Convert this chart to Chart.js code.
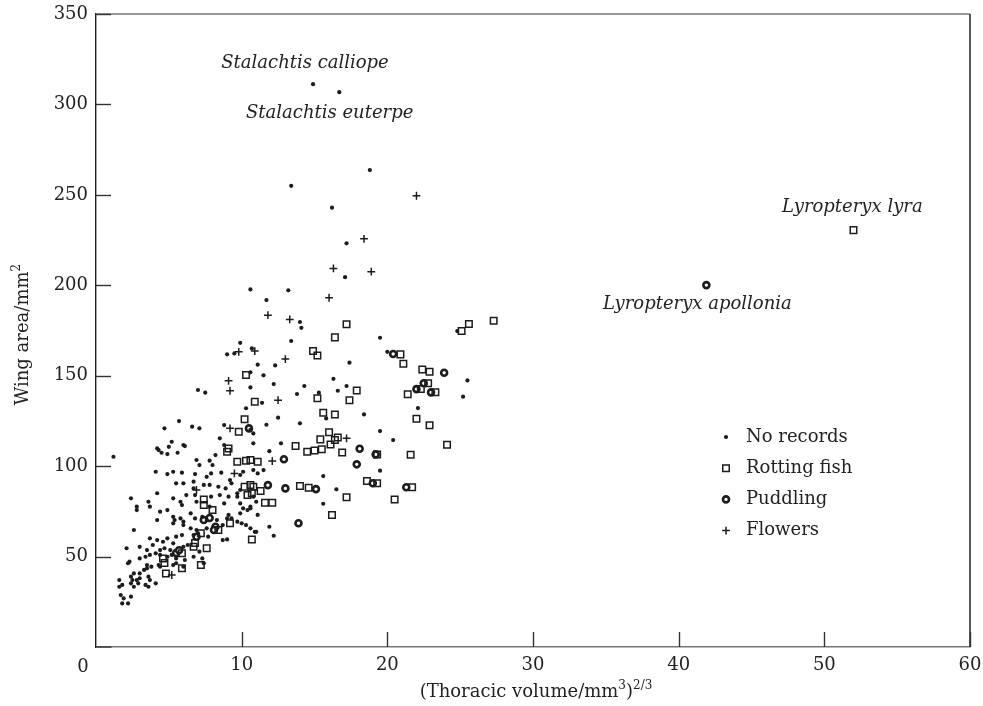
<!DOCTYPE html>
<html>
<head>
<meta charset="utf-8">
<title>Wing area vs thoracic volume</title>
<script src="https://cdn.jsdelivr.net/npm/chart.js@4.4.0/dist/chart.umd.min.js"></script>
<style>
    html, body { margin: 0; padding: 0; background: #fff; }
</style>
</head>
<body>
<canvas id="wingChart" width="983" height="706"></canvas>
<script>
// tick values
const xTicks = [0, 10, 20, 30, 40, 50, 60];
const yTicks = [50, 100, 150, 200, 250, 300, 350];

const seriesNames = ['No records', 'Rotting fish', 'Puddling', 'Flowers'];

// [thoracic volume^(2/3), wing area]
const noRecords = [
    [14.9, 311.2], [16.7, 306.8], [18.8, 263.7], [13.4, 255.0], [16.2, 242.9], [17.2, 223.2], [17.1, 204.5],
    [10.6, 197.7], [13.2, 197.2], [11.7, 191.8], [14.0, 179.7], [14.1, 176.5], [19.5, 171.0], [13.4, 169.2],
    [10.7, 165.1], [20.0, 163.2], [17.4, 157.2], [11.1, 156.1], [12.3, 155.7], [10.6, 151.9], [11.5, 150.2],
    [16.3, 148.3], [12.2, 145.4], [14.3, 144.3], [17.2, 144.3], [24.8, 174.7], [25.5, 147.4], [25.2, 138.4],
    [22.1, 132.1], [11.4, 135.0], [13.8, 139.9], [15.3, 140.6], [16.6, 141.7], [15.8, 126.4], [18.4, 128.6],
    [12.5, 126.8], [14.0, 123.7], [11.7, 122.9], [10.6, 120.0], [10.8, 118.1], [10.8, 112.6], [19.5, 119.4],
    [20.4, 114.4], [12.7, 112.6], [11.9, 108.3], [19.5, 97.5], [15.6, 94.5], [16.5, 87.2], [15.6, 79.2],
    [11.1, 73.0], [11.9, 66.5], [12.2, 61.5], [11.0, 63.7], [10.8, 97.8], [11.1, 96.0], [11.5, 97.8],
    [10.8, 83.1], [11.0, 80.3], [10.6, 76.7],
    [9.9, 168.2], [9.0, 161.8], [9.5, 162.3], [7.0, 142.1], [7.5, 140.6], [10.6, 143.5], [10.3, 132.0],
    [5.7, 124.9], [4.7, 120.9], [6.6, 121.8], [7.1, 120.9], [8.8, 122.7], [5.2, 113.5], [5.0, 110.7],
    [6.0, 111.7], [8.5, 115.4], [8.8, 111.7], [4.2, 109.8],
    [1.2, 105.2], [4.3, 108.9], [4.5, 107.4], [4.9, 106.7], [5.6, 107.4], [6.1, 111.1], [6.9, 103.4],
    [7.1, 100.6], [8.0, 100.6], [8.2, 106.1], [7.8, 103.0],
    [4.1, 96.9], [4.9, 95.6], [5.3, 96.9], [5.9, 96.4], [6.8, 95.6], [7.6, 94.1], [7.9, 96.0], [8.6, 96.4],
    [9.2, 92.3], [10.1, 96.9], [9.9, 95.1],
    [5.5, 90.5], [6.0, 90.5], [6.7, 91.4], [7.4, 89.6], [7.8, 89.6], [8.4, 88.6], [8.9, 87.7], [9.3, 90.5],
    [6.7, 87.7], [9.7, 85.0], [9.9, 86.8],
    [4.2, 85.0], [5.3, 82.2], [6.2, 84.0], [6.8, 84.0], [7.9, 83.1], [8.5, 84.0], [9.1, 83.1], [9.7, 83.1],
    [3.6, 80.3], [3.7, 77.6], [5.8, 80.3], [5.9, 78.5], [6.9, 80.3], [7.8, 77.6], [9.9, 79.4], [8.8, 79.4],
    [2.4, 82.2], [2.8, 77.6], [2.8, 75.7], [10.1, 76.7], [10.6, 77.6],
    [4.4, 74.8], [4.9, 75.7], [5.3, 72.0], [6.0, 69.3], [6.5, 73.9], [6.8, 71.1], [7.3, 72.0], [7.6, 70.2],
    [8.3, 70.2], [9.0, 71.1], [9.9, 73.9], [10.4, 75.7], [4.2, 70.2], [5.4, 70.2], [5.8, 71.1], [9.1, 73.0],
    [9.3, 71.1],
    [5.3, 68.4], [6.0, 67.4], [6.5, 65.6], [6.9, 64.7], [7.6, 65.6], [8.7, 67.4], [9.7, 69.3], [10.0, 68.4],
    [10.6, 65.6], [10.3, 67.4], [10.9, 63.7], [2.6, 64.7],
    [3.7, 60.1], [4.2, 59.1], [4.6, 58.2], [4.9, 60.1], [5.3, 57.3], [5.5, 61.0], [5.9, 61.9], [6.7, 61.9],
    [7.0, 62.9], [7.7, 61.0], [8.7, 59.1], [9.0, 59.5],
    [3.0, 55.4], [3.5, 53.6], [3.9, 56.4], [4.4, 53.6], [4.7, 54.6], [5.1, 53.6], [6.0, 55.4], [6.3, 56.4],
    [7.1, 52.7], [2.1, 54.6],
    [3.0, 49.0], [3.4, 49.9], [3.7, 50.9], [4.1, 51.8], [4.4, 50.9], [4.9, 49.9], [5.2, 50.9], [5.5, 49.0],
    [6.1, 48.1], [6.7, 49.9], [7.3, 49.0], [7.4, 46.3], [2.3, 47.2], [2.2, 46.3],
    [3.5, 45.3], [4.4, 44.4], [5.5, 46.3], [6.0, 44.4], [5.3, 45.3], [4.3, 45.3],
    [3.8, 44.4], [3.5, 43.5], [3.3, 42.6], [3.0, 40.7], [2.6, 40.7], [2.4, 38.9], [2.5, 37.0], [2.8, 37.0],
    [3.0, 38.0], [3.6, 38.9], [3.7, 37.0], [4.1, 35.2], [1.6, 37.0], [1.8, 34.3], [1.6, 33.3], [2.4, 35.2],
    [2.6, 33.3], [2.9, 35.2], [3.4, 34.3], [3.6, 33.3],
    [1.7, 28.7], [1.9, 26.9], [2.4, 27.8], [1.8, 24.1], [2.2, 24.1]
];

const rottingFish = [
    [17.2, 178.4], [16.4, 171.2], [14.9, 163.6], [15.2, 161.2], [20.9, 161.8], [21.1, 156.6], [17.9, 141.8],
    [25.6, 178.6], [27.3, 180.4], [25.1, 174.7], [22.4, 153.5], [22.9, 152.2], [22.8, 145.8], [22.3, 142.6],
    [21.4, 139.7], [23.3, 140.8], [22.0, 126.2], [22.9, 122.6], [24.1, 111.8], [21.6, 106.3], [10.9, 135.6],
    [15.2, 137.5], [17.4, 136.5], [15.6, 129.5], [16.4, 128.6], [16.0, 118.7], [15.4, 114.8], [16.6, 115.9],
    [16.4, 114.4], [16.1, 112.0], [13.7, 111.1], [14.5, 108.0], [15.0, 108.7], [15.5, 109.3], [16.9, 107.6],
    [19.3, 106.5], [11.1, 102.4], [10.6, 103.4], [18.6, 91.8], [19.3, 90.5], [21.7, 88.3], [14.0, 89.0],
    [14.6, 88.1], [17.2, 82.8], [20.5, 81.6], [16.2, 73.0], [10.7, 59.5], [10.8, 88.6], [11.3, 86.2],
    [11.6, 79.8], [12.1, 79.8], [10.3, 150.4], [10.2, 125.9], [9.8, 119.0], [9.1, 109.8], [9.0, 108.0],
    [9.7, 102.4], [10.3, 103.0], [10.2, 88.6], [10.6, 89.6], [10.7, 85.0], [10.4, 84.0], [7.4, 78.5],
    [7.4, 81.5], [8.0, 75.7], [9.2, 68.4], [8.4, 64.7], [6.7, 55.4], [6.8, 57.5], [7.2, 62.9], [7.6, 54.6],
    [5.9, 51.8], [4.6, 49.0], [4.7, 46.4], [4.8, 40.7], [7.2, 45.3], [5.9, 43.5],
    [52.0, 230.5]
];

const puddling = [
    [20.4, 162.0], [23.9, 151.6], [22.0, 142.6], [22.5, 145.8], [23.0, 140.8], [18.1, 109.6], [19.2, 106.5],
    [12.9, 103.8], [17.9, 101.0], [21.3, 88.3], [19.0, 90.5], [15.1, 87.3], [13.0, 87.7], [13.9, 68.4],
    [11.8, 89.5], [10.5, 120.9], [8.2, 66.5], [7.4, 70.2], [7.8, 71.3], [6.9, 61.0], [5.5, 52.0], [5.7, 53.5],
    [8.1, 64.7],
    [41.9, 200.1]
];

const flowers = [
    [22.0, 249.5], [18.4, 225.7], [16.3, 209.3], [18.9, 207.5], [16.0, 193.1], [11.8, 183.5], [13.3, 181.1],
    [10.9, 163.6], [13.0, 159.2], [9.8, 163.2], [9.1, 147.2], [9.2, 141.7], [12.5, 136.5], [17.2, 115.4],
    [12.1, 102.8], [9.2, 120.9], [6.9, 86.8], [5.2, 39.8], [9.5, 96.0]
];

// species names written next to their points (anchor in data units, text starts there)
const speciesNames = ['Stalachtis calliope', 'Stalachtis euterpe', 'Lyropteryx lyra', 'Lyropteryx apollonia'];
const speciesAnchors = [[8.6, 322.8], [10.3, 295.2], [47.1, 243.0], [34.8, 189.5]];

const ink = '#1c1c1c';
const serif = '"DejaVu Serif", "Liberation Serif", serif';

function toPoints(list) {
    return list.map(p => ({ x: p[0], y: p[1] }));
}

const markers = [
    { pointStyle: 'circle', radius: 2.1, borderWidth: 0, backgroundColor: ink },
    { pointStyle: 'rect', radius: 4.6, borderWidth: 1.5, backgroundColor: 'rgba(255,255,255,0)' },
    { pointStyle: 'circle', radius: 3.0, borderWidth: 2.6, backgroundColor: '#fff' },
    { pointStyle: 'cross', radius: 3.9, borderWidth: 1.5, backgroundColor: ink }
];

const seriesData = [noRecords, rottingFish, puddling, flowers];

const datasets = seriesData.map((list, i) => ({
    label: seriesNames[i],
    data: toPoints(list),
    pointStyle: markers[i].pointStyle,
    pointRadius: markers[i].radius,
    pointHoverRadius: markers[i].radius,
    pointBorderWidth: markers[i].borderWidth,
    pointBorderColor: ink,
    pointBackgroundColor: markers[i].backgroundColor,
    showLine: false
}));

// text with superscripts, parts = [[text, isSup], ...]
function richWidth(ctx, parts, size) {
    let w = 0;
    parts.forEach(p => {
        ctx.font = (p[1] ? Math.round(size * 0.68) : size) + 'px ' + serif;
        w += ctx.measureText(p[0]).width;
    });
    return w;
}

function drawRich(ctx, parts, cx, cy, size) {
    let x = cx - richWidth(ctx, parts, size) / 2;
    ctx.textAlign = 'left';
    ctx.textBaseline = 'alphabetic';
    parts.forEach(p => {
        const s = p[1] ? Math.round(size * 0.68) : size;
        ctx.font = s + 'px ' + serif;
        ctx.fillText(p[0], x, cy + (p[1] ? -size * 0.42 : 0));
        x += ctx.measureText(p[0]).width;
    });
}

// no extra room for overhanging tick labels: the frame is fixed by layout padding
function fixScale(scale, size) {
    if (scale.isHorizontal()) {
        scale.height = size;
    } else {
        scale.width = size;
    }
    scale.paddingTop = 0;
    scale.paddingBottom = 0;
    scale.paddingLeft = 0;
    scale.paddingRight = 0;
}

const figurePlugin = {
    id: 'figure',
    afterDraw(chart) {
        const { ctx, chartArea: a } = chart;
        const xs = chart.scales.x;
        const ys = chart.scales.y;
        ctx.save();

        // top and right frame
        ctx.lineWidth = 1.5;
        ctx.strokeStyle = '#777';
        ctx.beginPath();
        ctx.moveTo(a.left, a.top);
        ctx.lineTo(a.right, a.top);
        ctx.stroke();
        ctx.strokeStyle = '#222';
        ctx.beginPath();
        ctx.moveTo(a.right, a.top);
        ctx.lineTo(a.right, a.bottom);
        ctx.stroke();

        // inward tick marks
        ctx.strokeStyle = '#333';
        ctx.lineWidth = 1.4;
        yTicks.forEach(v => {
            const py = Math.round(ys.getPixelForValue(v)) + 0.5;
            ctx.beginPath();
            ctx.moveTo(a.left, py);
            ctx.lineTo(a.left + 15, py);
            ctx.stroke();
        });
        xTicks.forEach(v => {
            const px = Math.round(xs.getPixelForValue(v)) + 0.5;
            ctx.beginPath();
            if (v === 0) {
                ctx.moveTo(px, a.bottom);
                ctx.lineTo(px + 15, a.bottom);
            } else {
                ctx.moveTo(px, a.bottom);
                ctx.lineTo(px, a.bottom - 15);
            }
            ctx.stroke();
        });

        ctx.fillStyle = '#222';

        // the origin label sits left of the axis in the original
        ctx.font = '18px ' + serif;
        ctx.textAlign = 'center';
        ctx.textBaseline = 'middle';
        ctx.fillText('0', xs.getPixelForValue(0) - 13, a.bottom + 20);

        // species labels
        ctx.font = 'italic 18px ' + serif;
        ctx.textAlign = 'left';
        speciesNames.forEach((name, i) => {
            const px = xs.getPixelForValue(speciesAnchors[i][0]);
            const py = ys.getPixelForValue(speciesAnchors[i][1]);
            ctx.fillText(name, px, py);
        });

        // legend
        const lx = a.left + 630;
        let ly = a.top + 423;
        seriesNames.forEach((name, i) => {
            ctx.strokeStyle = ink;
            ctx.fillStyle = markers[i].backgroundColor;
            ctx.lineWidth = markers[i].borderWidth;
            Chart.helpers.drawPoint(ctx, {
                pointStyle: markers[i].pointStyle,
                radius: markers[i].radius,
                borderWidth: markers[i].borderWidth,
                rotation: 0
            }, lx, ly);
            ctx.fillStyle = '#222';
            ctx.font = '18px ' + serif;
            ctx.textAlign = 'left';
            ctx.textBaseline = 'middle';
            ctx.fillText(name, lx + 20, ly);
            ly += 31.2;
        });

        // axis titles
        ctx.fillStyle = '#222';
        drawRich(ctx, [['(Thoracic volume/mm', false], ['3', true], [')', false], ['2/3', true]],
            (a.left + a.right) / 2 + 3, 697, 18);
        ctx.translate(28, (a.top + a.bottom) / 2 + 4);
        ctx.rotate(-Math.PI / 2);
        drawRich(ctx, [['Wing area/mm', false], ['2', true]], 0, 0, 18);

        ctx.restore();
    }
};

const tickFont = { family: serif, size: 18 };

const config = {
    type: 'scatter',
    data: { datasets: datasets },
    options: {
        responsive: false,
        animation: false,
        events: [],
        layout: { padding: { top: 14, right: 13, left: 0, bottom: 0 } },
        plugins: {
            legend: { display: false },
            tooltip: { enabled: false },
            title: { display: false }
        },
        scales: {
            x: {
                type: 'linear',
                min: 0,
                max: 60,
                afterFit(scale) { fixScale(scale, 59); },
                afterBuildTicks(scale) { scale.ticks = xTicks.map(v => ({ value: v })); },
                grid: { display: false, drawTicks: false },
                border: { display: true, color: '#777', width: 1.5 },
                ticks: {
                    font: tickFont,
                    color: '#222',
                    padding: 8,
                    maxRotation: 0,
                    callback: v => (v === 0 ? '' : String(v))
                }
            },
            y: {
                type: 'linear',
                min: 0,
                max: 350,
                afterFit(scale) { fixScale(scale, 96); },
                afterBuildTicks(scale) { scale.ticks = [0].concat(yTicks).map(v => ({ value: v })); },
                grid: { display: false, drawTicks: false },
                border: { display: true, color: '#222', width: 1.4 },
                ticks: {
                    font: tickFont,
                    color: '#222',
                    padding: 8,
                    callback: v => (v === 0 ? '' : String(v))
                }
            }
        }
    },
    plugins: [figurePlugin]
};

const wingCtx = document.getElementById('wingChart').getContext('2d');
const wingChart = new Chart(wingCtx, config);
</script>
</body>
</html>
